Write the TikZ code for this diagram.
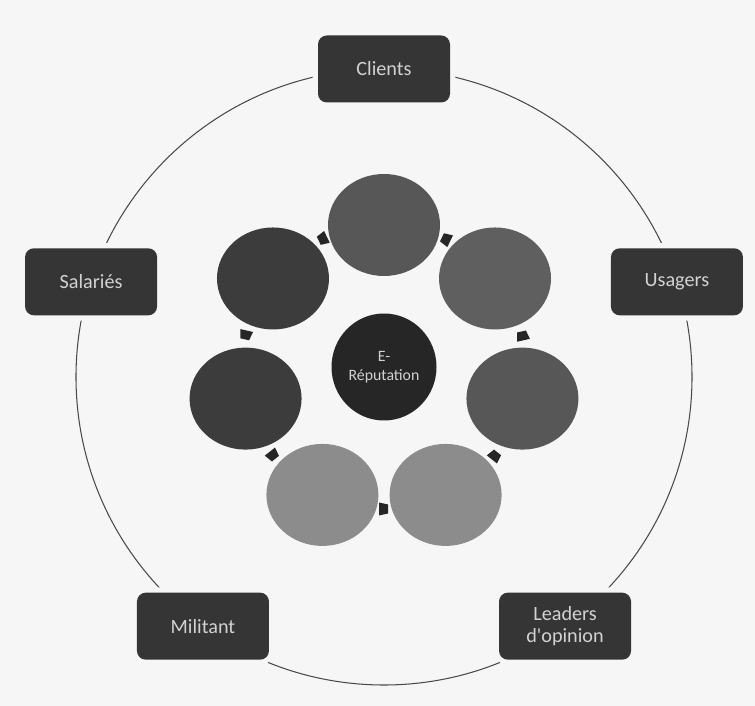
\documentclass[tikz,border=0pt]{standalone}
\usepackage{fontspec}
\setmainfont{Carlito}
\usepackage{xcolor}
\usepackage{tikz}
\usetikzlibrary{shapes.geometric}

\definecolor{pagebg}{HTML}{F6F6F6}
\definecolor{boxgray}{HTML}{353535}
\definecolor{labelgray}{HTML}{D2D2D2}
\definecolor{ringline}{HTML}{4A4A4A}
\definecolor{linkgray}{HTML}{262626}
\definecolor{coregray}{HTML}{262626}
\definecolor{midgray}{HTML}{575757}
\definecolor{midgrayb}{HTML}{5F5F5F}
\definecolor{lightgray}{HTML}{8C8C8C}
\definecolor{darkgray}{HTML}{3C3C3C}

\tikzset{
  actor/.style={rectangle, rounded corners=5pt, fill=boxgray, text=labelgray,
    minimum width=2.64cm, minimum height=1.34cm, align=center,
    font=\fontsize{11.5}{12.5}\selectfont,
    preaction={draw=pagebg, line width=6pt}},
  bubble/.style={ellipse, minimum width=2.24cm, minimum height=2.04cm, inner sep=0pt},
  link/.style={fill=linkgray},
}

\begin{document}
\begin{tikzpicture}
        % Draw the background
        \fill[pagebg] (0,0) rectangle (15.1,14.12);

        % Draw the outer circle
        \coordinate (O) at (7.68,6.58);
        \draw[ringline, line width=0.6pt] (O) circle (6.16);

        % Draw the stakeholders
        \node[actor] (clients) at ([shift={(90:6.16)}]O) {Clients};
        \node[actor] (usagers) at ([shift={(18:6.16)}]O) {Usagers};
        \node[actor] (leaders) at ([shift={(-54:6.16)}]O) {Leaders\\d\textquotesingle opinion};
        \node[actor] (militant) at ([shift={(234:6.16)}]O) {Militant};
        \node[actor] (salaries) at ([shift={(162:6.16)}]O) {Salariés};

        % Draw the links between the bubbles
        \coordinate (R) at (7.68,6.78);
        \foreach \a in {64.29, 12.86, -38.57, -90, -141.43, 167.14, 115.71}
            \fill[link, shift={(R)}, rotate=\a] (2.71,-0.10) -- (2.97,-0.10) -- (2.93,0.08) -- (2.75,0.08) -- cycle;

        % Draw the bubbles
        \foreach \a/\c [count=\i] in {90/midgray, 38.57/midgrayb, -12.86/midgray, -64.29/lightgray, -115.71/lightgray, 192.86/darkgray, 141.43/darkgray}
            \node[bubble, fill=\c] (b\i) at ([shift={(\a:2.84)}]R) {};

        % Draw the core
        \node[ellipse, fill=coregray, minimum width=2.1cm, minimum height=2.14cm, inner sep=0pt,
            text=labelgray, align=center, font=\fontsize{9}{11}\selectfont] (core) at (R) {E-\\Réputation};

    \end{tikzpicture}
\end{document}
